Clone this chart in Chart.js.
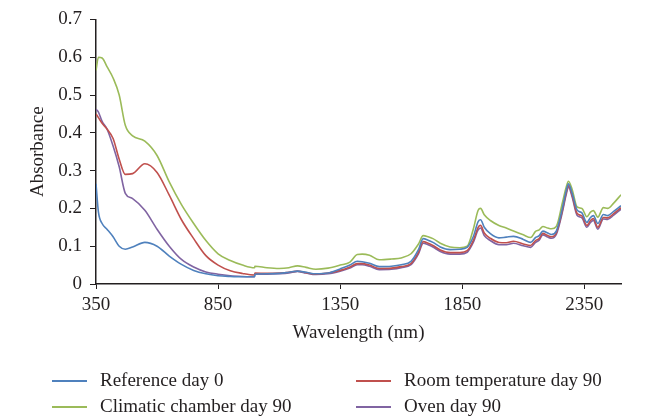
<!DOCTYPE html>
<html>
<head>
<meta charset="utf-8">
<script src="https://cdn.jsdelivr.net/npm/chart.js@4"></script>
<style>
  body { margin: 0; background: #fff; }
  #wrap { position: relative; width: 652px; height: 419px; }
  #legend { position: absolute; left: 0; top: 0; width: 652px; height: 419px; pointer-events: none;
            font-family: "Liberation Serif", "DejaVu Serif", serif; font-size: 19px; color: #231f20; }
  .item { position: absolute; white-space: nowrap; line-height: 22px; }
  .item span.ln { position: absolute; left: -48px; top: 11px; width: 35px; height: 1.5px; }
</style>
</head>
<body>
<div id="wrap">
  <canvas id="myChart" width="652" height="419"></canvas>
  <div id="legend"></div>
</div>
<script>
// Data
const wavelength = [350, 360, 375, 395, 420, 445, 470, 500, 550, 600,
    650, 700, 750, 800, 850, 900, 950, 999, 1001, 1050,
    1100, 1140, 1175, 1210, 1250, 1300, 1350, 1390, 1420, 1440,
    1470, 1510, 1560, 1600, 1640, 1670, 1690, 1710, 1730, 1760,
    1800, 1840, 1870, 1895, 1915, 1925, 1940, 1965, 2000, 2030,
    2060, 2100, 2130, 2150, 2165, 2180, 2200, 2215, 2235, 2260,
    2275, 2285, 2300, 2320, 2340, 2360, 2375, 2387, 2405, 2428,
    2445, 2470, 2500];

const referenceDay0 = [0.265, 0.19, 0.16, 0.145, 0.125, 0.1, 0.092, 0.098, 0.11, 0.1,
    0.074, 0.052, 0.036, 0.027, 0.022, 0.02, 0.019, 0.019, 0.026, 0.027,
    0.028, 0.031, 0.034, 0.031, 0.027, 0.029, 0.04, 0.05, 0.06, 0.059,
    0.055, 0.046, 0.047, 0.051, 0.06, 0.09, 0.12, 0.116, 0.11, 0.098,
    0.091, 0.092, 0.097, 0.125, 0.165, 0.17, 0.15, 0.133, 0.122, 0.124,
    0.126, 0.118, 0.11, 0.123, 0.128, 0.14, 0.135, 0.131, 0.14, 0.2,
    0.245, 0.265, 0.24, 0.196, 0.188, 0.163, 0.176, 0.181, 0.16, 0.184,
    0.181, 0.192, 0.207];

const climaticDay90 = [0.565, 0.6, 0.598, 0.575, 0.545, 0.5, 0.42, 0.392, 0.378, 0.34,
    0.27, 0.21, 0.16, 0.115, 0.08, 0.062, 0.05, 0.043, 0.047, 0.043,
    0.041, 0.043, 0.048, 0.044, 0.039, 0.042, 0.05, 0.058, 0.078, 0.079,
    0.076, 0.064, 0.066, 0.069, 0.08, 0.105, 0.128, 0.125, 0.12, 0.108,
    0.098, 0.096, 0.1, 0.145, 0.195, 0.2, 0.183, 0.168, 0.155, 0.148,
    0.14, 0.13, 0.123, 0.139, 0.143, 0.152, 0.148, 0.146, 0.152, 0.215,
    0.255, 0.272, 0.25, 0.204, 0.2, 0.178, 0.19, 0.194, 0.177, 0.202,
    0.2, 0.214, 0.236];

const roomTempDay90 = [0.45, 0.44, 0.425, 0.41, 0.385, 0.33, 0.29, 0.292, 0.318, 0.295,
    0.235, 0.17, 0.12, 0.075, 0.05, 0.035, 0.028, 0.024, 0.029, 0.028,
    0.029, 0.031, 0.034, 0.03, 0.026, 0.029, 0.036, 0.045, 0.054, 0.054,
    0.05, 0.041, 0.042, 0.046, 0.054, 0.083, 0.112, 0.108, 0.102, 0.09,
    0.083, 0.083, 0.088, 0.115, 0.15, 0.155, 0.135, 0.121, 0.11, 0.109,
    0.113, 0.106, 0.102, 0.115, 0.12, 0.134, 0.128, 0.125, 0.135, 0.195,
    0.24, 0.26, 0.235, 0.187, 0.18, 0.155, 0.168, 0.173, 0.15, 0.176,
    0.175, 0.186, 0.202];

const ovenDay90 = [0.462, 0.455, 0.43, 0.41, 0.365, 0.31, 0.24, 0.226, 0.195, 0.145,
    0.1, 0.065, 0.045, 0.032, 0.026, 0.022, 0.02, 0.019, 0.026, 0.026,
    0.027, 0.029, 0.033, 0.029, 0.025, 0.027, 0.034, 0.042, 0.051, 0.051,
    0.047, 0.038, 0.039, 0.043, 0.051, 0.079, 0.108, 0.104, 0.098, 0.086,
    0.079, 0.079, 0.084, 0.11, 0.143, 0.148, 0.128, 0.115, 0.104, 0.104,
    0.108, 0.101, 0.097, 0.11, 0.116, 0.13, 0.124, 0.121, 0.131, 0.19,
    0.235, 0.257, 0.23, 0.182, 0.175, 0.15, 0.163, 0.168, 0.145, 0.172,
    0.171, 0.182, 0.198];

const xTicks = [350, 850, 1350, 1850, 2350];
const seriesNames = ['Reference day 0', 'Climatic chamber day 90', 'Room temperature day 90', 'Oven day 90'];
const seriesColors = ['#4f81bd', '#9bbb59', '#c0504d', '#8064a2'];
const seriesValues = [referenceDay0, climaticDay90, roomTempDay90, ovenDay90];

const FONT = { family: '"Liberation Serif", "DejaVu Serif", serif', size: 19 };
const INK = '#231f20';

function toPoints(values) {
    return values.map((v, i) => ({ x: wavelength[i], y: v }));
}

const chart = new Chart(document.getElementById('myChart').getContext('2d'), {
    type: 'line',
    data: {
        datasets: seriesNames.map((name, i) => ({
            label: name,
            data: toPoints(seriesValues[i]),
            borderColor: seriesColors[i],
            borderWidth: 1.6,
            pointRadius: 0,
            cubicInterpolationMode: 'monotone',
            fill: false
        }))
    },
    options: {
        responsive: false,
        animation: false,
        layout: { padding: { top: 17, right: 31, bottom: 71, left: 23 } },
        plugins: { legend: { display: false }, tooltip: { enabled: false } },
        scales: {
            x: {
                type: 'linear',
                min: 350,
                max: 2500,
                afterBuildTicks: (scale) => { scale.ticks = xTicks.map(v => ({ value: v })); },
                afterFit: (scale) => { scale.height = 64; },
                grid: { drawOnChartArea: false, drawTicks: true, tickLength: 5, color: INK, tickColor: INK },
                border: { color: INK, width: 1.5 },
                ticks: { color: INK, font: FONT, padding: 5, maxRotation: 0, callback: v => String(v) },
                title: { display: true, text: 'Wavelength (nm)', color: INK, font: FONT, padding: { top: 4, bottom: 4 } }
            },
            y: {
                min: 0,
                max: 0.7,
                afterFit: (scale) => { scale.width = 73; },
                grid: { drawOnChartArea: false, drawTicks: true, tickLength: 6, color: INK, tickColor: INK },
                border: { color: INK, width: 1.5 },
                ticks: { stepSize: 0.1, color: INK, font: FONT, padding: 8, callback: v => String(+v.toFixed(1)) },
                title: { display: true, text: 'Absorbance', color: INK, font: FONT, padding: { top: 4, bottom: 4 } }
            }
        }
    }
});

// Legend (two columns, like the original)
const legendSlots = [
    { name: 'Reference day 0', left: 100, top: 369 },
    { name: 'Room temperature day 90', left: 404, top: 369 },
    { name: 'Climatic chamber day 90', left: 100, top: 395 },
    { name: 'Oven day 90', left: 404, top: 395 }
];
const legend = document.getElementById('legend');
legendSlots.forEach(slot => {
    const ds = chart.data.datasets.find(d => d.label === slot.name);
    const div = document.createElement('div');
    div.className = 'item';
    div.style.left = slot.left + 'px';
    div.style.top = slot.top + 'px';
    div.innerHTML = '<span class="ln" style="background:' + ds.borderColor + '"></span>' + slot.name;
    legend.appendChild(div);
});
</script>
</body>
</html>
